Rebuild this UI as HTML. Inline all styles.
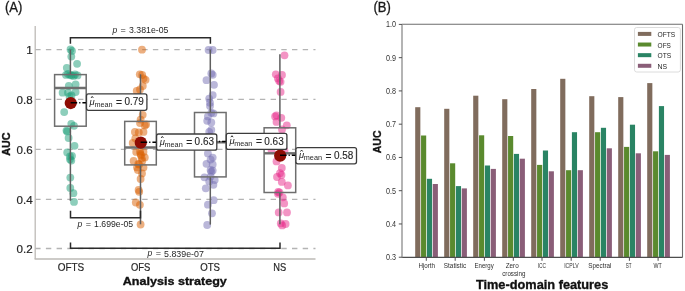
<!DOCTYPE html>
<html><head><meta charset="utf-8"><style>
html,body{margin:0;padding:0;background:#fff;}
body{width:685px;height:291px;overflow:hidden;position:relative;font-family:"Liberation Sans", sans-serif;}
svg{will-change:transform;}
</style></head><body>
<svg width="685" height="291" viewBox="0 0 685 291" style="position:absolute;left:0;top:0">
<rect x="0" y="0" width="685" height="291" fill="#ffffff"/>
<text x="5.0" y="12.2" font-size="14.2" fill="#1a1a1a" stroke="#1a1a1a" stroke-width="0.3" font-family='"Liberation Sans", sans-serif' textLength="17.4" lengthAdjust="spacingAndGlyphs">(A)</text>
<line x1="35.2" y1="49.60" x2="315.5" y2="49.60" stroke="#b4b4b4" stroke-width="1.3" stroke-dasharray="5.4 5.3"/>
<line x1="35.2" y1="99.40" x2="315.5" y2="99.40" stroke="#b4b4b4" stroke-width="1.3" stroke-dasharray="5.4 5.3"/>
<line x1="35.2" y1="149.40" x2="315.5" y2="149.40" stroke="#b4b4b4" stroke-width="1.3" stroke-dasharray="5.4 5.3"/>
<line x1="35.2" y1="199.30" x2="315.5" y2="199.30" stroke="#b4b4b4" stroke-width="1.3" stroke-dasharray="5.4 5.3"/>
<line x1="35.2" y1="248.50" x2="315.5" y2="248.50" stroke="#b4b4b4" stroke-width="1.3" stroke-dasharray="5.4 5.3"/>
<circle cx="70.5" cy="49.40" r="3.9" fill="#1b9e77" fill-opacity="0.5"/>
<circle cx="72" cy="50.90" r="3.9" fill="#1b9e77" fill-opacity="0.5"/>
<circle cx="71.3" cy="56.60" r="3.9" fill="#1b9e77" fill-opacity="0.5"/>
<circle cx="77.1" cy="63.80" r="3.9" fill="#1b9e77" fill-opacity="0.5"/>
<circle cx="66.8" cy="67.80" r="3.9" fill="#1b9e77" fill-opacity="0.5"/>
<circle cx="66" cy="74.90" r="3.9" fill="#1b9e77" fill-opacity="0.5"/>
<circle cx="68" cy="73.90" r="3.9" fill="#1b9e77" fill-opacity="0.5"/>
<circle cx="70" cy="74.90" r="3.9" fill="#1b9e77" fill-opacity="0.5"/>
<circle cx="71.5" cy="75.40" r="3.9" fill="#1b9e77" fill-opacity="0.5"/>
<circle cx="73.5" cy="75.90" r="3.9" fill="#1b9e77" fill-opacity="0.5"/>
<circle cx="75" cy="74.40" r="3.9" fill="#1b9e77" fill-opacity="0.5"/>
<circle cx="77.5" cy="75.40" r="3.9" fill="#1b9e77" fill-opacity="0.5"/>
<circle cx="68.8" cy="85.80" r="3.9" fill="#1b9e77" fill-opacity="0.5"/>
<circle cx="75.6" cy="84.40" r="3.9" fill="#1b9e77" fill-opacity="0.5"/>
<circle cx="62.6" cy="92.70" r="3.9" fill="#1b9e77" fill-opacity="0.5"/>
<circle cx="68" cy="92.70" r="3.9" fill="#1b9e77" fill-opacity="0.5"/>
<circle cx="75.6" cy="92.00" r="3.9" fill="#1b9e77" fill-opacity="0.5"/>
<circle cx="71.5" cy="95.40" r="3.9" fill="#1b9e77" fill-opacity="0.5"/>
<circle cx="69.5" cy="96.40" r="3.9" fill="#1b9e77" fill-opacity="0.5"/>
<circle cx="64.2" cy="112.10" r="3.9" fill="#1b9e77" fill-opacity="0.5"/>
<circle cx="71.3" cy="123.80" r="3.9" fill="#1b9e77" fill-opacity="0.5"/>
<circle cx="74" cy="125.80" r="3.9" fill="#1b9e77" fill-opacity="0.5"/>
<circle cx="66.5" cy="130.60" r="3.9" fill="#1b9e77" fill-opacity="0.5"/>
<circle cx="67.2" cy="131.40" r="3.9" fill="#1b9e77" fill-opacity="0.5"/>
<circle cx="68.6" cy="138.00" r="3.9" fill="#1b9e77" fill-opacity="0.5"/>
<circle cx="74.5" cy="145.80" r="3.9" fill="#1b9e77" fill-opacity="0.5"/>
<circle cx="67.2" cy="152.40" r="3.9" fill="#1b9e77" fill-opacity="0.5"/>
<circle cx="70" cy="156.50" r="3.9" fill="#1b9e77" fill-opacity="0.5"/>
<circle cx="72" cy="155.80" r="3.9" fill="#1b9e77" fill-opacity="0.5"/>
<circle cx="70" cy="159.30" r="3.9" fill="#1b9e77" fill-opacity="0.5"/>
<circle cx="71.3" cy="160.60" r="3.9" fill="#1b9e77" fill-opacity="0.5"/>
<circle cx="70.3" cy="177.60" r="3.9" fill="#1b9e77" fill-opacity="0.5"/>
<circle cx="70.3" cy="187.90" r="3.9" fill="#1b9e77" fill-opacity="0.5"/>
<circle cx="73.4" cy="193.20" r="3.9" fill="#1b9e77" fill-opacity="0.5"/>
<circle cx="74" cy="201.90" r="3.9" fill="#1b9e77" fill-opacity="0.5"/>
<circle cx="142" cy="49.70" r="3.9" fill="#d95f02" fill-opacity="0.5"/>
<circle cx="139.8" cy="74.30" r="3.9" fill="#d95f02" fill-opacity="0.5"/>
<circle cx="142.2" cy="75.00" r="3.9" fill="#d95f02" fill-opacity="0.5"/>
<circle cx="143.5" cy="78.40" r="3.9" fill="#d95f02" fill-opacity="0.5"/>
<circle cx="145.6" cy="79.80" r="3.9" fill="#d95f02" fill-opacity="0.5"/>
<circle cx="142.8" cy="86.00" r="3.9" fill="#d95f02" fill-opacity="0.5"/>
<circle cx="140" cy="89.40" r="3.9" fill="#d95f02" fill-opacity="0.5"/>
<circle cx="136.7" cy="90.80" r="3.9" fill="#d95f02" fill-opacity="0.5"/>
<circle cx="142.7" cy="114.80" r="3.9" fill="#d95f02" fill-opacity="0.5"/>
<circle cx="140.6" cy="119.60" r="3.9" fill="#d95f02" fill-opacity="0.5"/>
<circle cx="140" cy="123.10" r="3.9" fill="#d95f02" fill-opacity="0.5"/>
<circle cx="146.1" cy="124.40" r="3.9" fill="#d95f02" fill-opacity="0.5"/>
<circle cx="144.8" cy="125.40" r="3.9" fill="#d95f02" fill-opacity="0.5"/>
<circle cx="134.9" cy="131.90" r="3.9" fill="#d95f02" fill-opacity="0.5"/>
<circle cx="138.8" cy="132.30" r="3.9" fill="#d95f02" fill-opacity="0.5"/>
<circle cx="143.5" cy="131.90" r="3.9" fill="#d95f02" fill-opacity="0.5"/>
<circle cx="135.3" cy="138.30" r="3.9" fill="#d95f02" fill-opacity="0.5"/>
<circle cx="132.7" cy="143.00" r="3.9" fill="#d95f02" fill-opacity="0.5"/>
<circle cx="136.2" cy="151.90" r="3.9" fill="#d95f02" fill-opacity="0.5"/>
<circle cx="140" cy="151.40" r="3.9" fill="#d95f02" fill-opacity="0.5"/>
<circle cx="143.5" cy="151.90" r="3.9" fill="#d95f02" fill-opacity="0.5"/>
<circle cx="140.5" cy="153.90" r="3.9" fill="#d95f02" fill-opacity="0.5"/>
<circle cx="141" cy="155.40" r="3.9" fill="#d95f02" fill-opacity="0.5"/>
<circle cx="144.8" cy="157.40" r="3.9" fill="#d95f02" fill-opacity="0.5"/>
<circle cx="141.8" cy="158.30" r="3.9" fill="#d95f02" fill-opacity="0.5"/>
<circle cx="133.6" cy="160.90" r="3.9" fill="#d95f02" fill-opacity="0.5"/>
<circle cx="142.2" cy="160.90" r="3.9" fill="#d95f02" fill-opacity="0.5"/>
<circle cx="138.3" cy="163.90" r="3.9" fill="#d95f02" fill-opacity="0.5"/>
<circle cx="137" cy="167.40" r="3.9" fill="#d95f02" fill-opacity="0.5"/>
<circle cx="143.5" cy="167.40" r="3.9" fill="#d95f02" fill-opacity="0.5"/>
<circle cx="139.2" cy="164.50" r="3.9" fill="#d95f02" fill-opacity="0.5"/>
<circle cx="137.9" cy="170.00" r="3.9" fill="#d95f02" fill-opacity="0.5"/>
<circle cx="142" cy="173.40" r="3.9" fill="#d95f02" fill-opacity="0.5"/>
<circle cx="140.6" cy="179.00" r="3.9" fill="#d95f02" fill-opacity="0.5"/>
<circle cx="138.6" cy="190.00" r="3.9" fill="#d95f02" fill-opacity="0.5"/>
<circle cx="139.2" cy="191.80" r="3.9" fill="#d95f02" fill-opacity="0.5"/>
<circle cx="135.8" cy="202.50" r="3.9" fill="#d95f02" fill-opacity="0.5"/>
<circle cx="139.9" cy="204.80" r="3.9" fill="#d95f02" fill-opacity="0.5"/>
<circle cx="140.6" cy="224.50" r="3.9" fill="#d95f02" fill-opacity="0.5"/>
<circle cx="208.6" cy="50.00" r="3.9" fill="#7570b3" fill-opacity="0.5"/>
<circle cx="212.7" cy="50.00" r="3.9" fill="#7570b3" fill-opacity="0.5"/>
<circle cx="211.3" cy="73.40" r="3.9" fill="#7570b3" fill-opacity="0.5"/>
<circle cx="212.7" cy="74.80" r="3.9" fill="#7570b3" fill-opacity="0.5"/>
<circle cx="206.5" cy="80.20" r="3.9" fill="#7570b3" fill-opacity="0.5"/>
<circle cx="214" cy="84.80" r="3.9" fill="#7570b3" fill-opacity="0.5"/>
<circle cx="212.7" cy="95.10" r="3.9" fill="#7570b3" fill-opacity="0.5"/>
<circle cx="209.2" cy="98.60" r="3.9" fill="#7570b3" fill-opacity="0.5"/>
<circle cx="210" cy="102.70" r="3.9" fill="#7570b3" fill-opacity="0.5"/>
<circle cx="210" cy="105.90" r="3.9" fill="#7570b3" fill-opacity="0.5"/>
<circle cx="213.4" cy="113.40" r="3.9" fill="#7570b3" fill-opacity="0.5"/>
<circle cx="211.3" cy="112.80" r="3.9" fill="#7570b3" fill-opacity="0.5"/>
<circle cx="207.9" cy="116.40" r="3.9" fill="#7570b3" fill-opacity="0.5"/>
<circle cx="207.2" cy="120.80" r="3.9" fill="#7570b3" fill-opacity="0.5"/>
<circle cx="211.3" cy="122.40" r="3.9" fill="#7570b3" fill-opacity="0.5"/>
<circle cx="211.3" cy="130.00" r="3.9" fill="#7570b3" fill-opacity="0.5"/>
<circle cx="209.2" cy="132.00" r="3.9" fill="#7570b3" fill-opacity="0.5"/>
<circle cx="207.9" cy="153.40" r="3.9" fill="#7570b3" fill-opacity="0.5"/>
<circle cx="212.7" cy="157.60" r="3.9" fill="#7570b3" fill-opacity="0.5"/>
<circle cx="210.6" cy="159.60" r="3.9" fill="#7570b3" fill-opacity="0.5"/>
<circle cx="206.5" cy="163.80" r="3.9" fill="#7570b3" fill-opacity="0.5"/>
<circle cx="212.7" cy="164.40" r="3.9" fill="#7570b3" fill-opacity="0.5"/>
<circle cx="210.6" cy="170.00" r="3.9" fill="#7570b3" fill-opacity="0.5"/>
<circle cx="212.7" cy="170.60" r="3.9" fill="#7570b3" fill-opacity="0.5"/>
<circle cx="211.3" cy="171.80" r="3.9" fill="#7570b3" fill-opacity="0.5"/>
<circle cx="204.4" cy="177.30" r="3.9" fill="#7570b3" fill-opacity="0.5"/>
<circle cx="210.6" cy="176.60" r="3.9" fill="#7570b3" fill-opacity="0.5"/>
<circle cx="214.7" cy="180.00" r="3.9" fill="#7570b3" fill-opacity="0.5"/>
<circle cx="209.2" cy="181.40" r="3.9" fill="#7570b3" fill-opacity="0.5"/>
<circle cx="213.4" cy="184.80" r="3.9" fill="#7570b3" fill-opacity="0.5"/>
<circle cx="205.8" cy="188.30" r="3.9" fill="#7570b3" fill-opacity="0.5"/>
<circle cx="213.6" cy="200.20" r="3.9" fill="#7570b3" fill-opacity="0.5"/>
<circle cx="207.9" cy="204.70" r="3.9" fill="#7570b3" fill-opacity="0.5"/>
<circle cx="212" cy="213.30" r="3.9" fill="#7570b3" fill-opacity="0.5"/>
<circle cx="207.2" cy="225.00" r="3.9" fill="#7570b3" fill-opacity="0.5"/>
<circle cx="209" cy="136.40" r="3.9" fill="#7570b3" fill-opacity="0.5"/>
<circle cx="212" cy="140.40" r="3.9" fill="#7570b3" fill-opacity="0.5"/>
<circle cx="208" cy="145.40" r="3.9" fill="#7570b3" fill-opacity="0.5"/>
<circle cx="284.5" cy="55.30" r="3.9" fill="#e7298a" fill-opacity="0.5"/>
<circle cx="275.8" cy="74.30" r="3.9" fill="#e7298a" fill-opacity="0.5"/>
<circle cx="282" cy="75.00" r="3.9" fill="#e7298a" fill-opacity="0.5"/>
<circle cx="277.9" cy="78.40" r="3.9" fill="#e7298a" fill-opacity="0.5"/>
<circle cx="280.6" cy="81.80" r="3.9" fill="#e7298a" fill-opacity="0.5"/>
<circle cx="279.2" cy="80.90" r="3.9" fill="#e7298a" fill-opacity="0.5"/>
<circle cx="280.6" cy="91.90" r="3.9" fill="#e7298a" fill-opacity="0.5"/>
<circle cx="276.5" cy="115.30" r="3.9" fill="#e7298a" fill-opacity="0.5"/>
<circle cx="275.1" cy="116.40" r="3.9" fill="#e7298a" fill-opacity="0.5"/>
<circle cx="281.3" cy="117.80" r="3.9" fill="#e7298a" fill-opacity="0.5"/>
<circle cx="276.5" cy="121.90" r="3.9" fill="#e7298a" fill-opacity="0.5"/>
<circle cx="286.8" cy="125.30" r="3.9" fill="#e7298a" fill-opacity="0.5"/>
<circle cx="282" cy="129.40" r="3.9" fill="#e7298a" fill-opacity="0.5"/>
<circle cx="271.5" cy="149.90" r="3.9" fill="#e7298a" fill-opacity="0.5"/>
<circle cx="284.5" cy="150.90" r="3.9" fill="#e7298a" fill-opacity="0.5"/>
<circle cx="276.5" cy="161.40" r="3.9" fill="#e7298a" fill-opacity="0.5"/>
<circle cx="281.8" cy="168.00" r="3.9" fill="#e7298a" fill-opacity="0.5"/>
<circle cx="280" cy="173.20" r="3.9" fill="#e7298a" fill-opacity="0.5"/>
<circle cx="281.5" cy="174.90" r="3.9" fill="#e7298a" fill-opacity="0.5"/>
<circle cx="277" cy="177.00" r="3.9" fill="#e7298a" fill-opacity="0.5"/>
<circle cx="281.8" cy="181.90" r="3.9" fill="#e7298a" fill-opacity="0.5"/>
<circle cx="287.9" cy="185.40" r="3.9" fill="#e7298a" fill-opacity="0.5"/>
<circle cx="278.2" cy="191.90" r="3.9" fill="#e7298a" fill-opacity="0.5"/>
<circle cx="278" cy="193.80" r="3.9" fill="#e7298a" fill-opacity="0.5"/>
<circle cx="279.5" cy="192.40" r="3.9" fill="#e7298a" fill-opacity="0.5"/>
<circle cx="282.8" cy="197.30" r="3.9" fill="#e7298a" fill-opacity="0.5"/>
<circle cx="284.2" cy="203.40" r="3.9" fill="#e7298a" fill-opacity="0.5"/>
<circle cx="278.7" cy="212.40" r="3.9" fill="#e7298a" fill-opacity="0.5"/>
<circle cx="287" cy="212.40" r="3.9" fill="#e7298a" fill-opacity="0.5"/>
<circle cx="280.8" cy="223.40" r="3.9" fill="#e7298a" fill-opacity="0.5"/>
<circle cx="285.6" cy="224.00" r="3.9" fill="#e7298a" fill-opacity="0.5"/>
<circle cx="282.2" cy="225.40" r="3.9" fill="#e7298a" fill-opacity="0.5"/>
<line x1="70.4" y1="49.6" x2="70.4" y2="74.6" stroke="#5f5f5f" stroke-width="1.5"/>
<line x1="70.4" y1="126.2" x2="70.4" y2="200.8" stroke="#5f5f5f" stroke-width="1.5"/>
<rect x="54.60" y="74.6" width="31.6" height="51.60" fill="none" stroke="#6e6e6e" stroke-width="1.5"/>
<line x1="54.60" y1="88.0" x2="86.20" y2="88.0" stroke="#6e6e6e" stroke-width="2.4"/>
<line x1="140.5" y1="74.3" x2="140.5" y2="121.4" stroke="#5f5f5f" stroke-width="1.5"/>
<line x1="140.5" y1="164.9" x2="140.5" y2="224.3" stroke="#5f5f5f" stroke-width="1.5"/>
<rect x="124.70" y="121.4" width="31.6" height="43.50" fill="none" stroke="#6e6e6e" stroke-width="1.5"/>
<line x1="124.70" y1="147.5" x2="156.30" y2="147.5" stroke="#6e6e6e" stroke-width="2.4"/>
<line x1="210.3" y1="49.6" x2="210.3" y2="112.5" stroke="#5f5f5f" stroke-width="1.5"/>
<line x1="210.3" y1="176.9" x2="210.3" y2="224.6" stroke="#5f5f5f" stroke-width="1.5"/>
<rect x="194.50" y="112.5" width="31.6" height="64.40" fill="none" stroke="#6e6e6e" stroke-width="1.5"/>
<line x1="194.50" y1="142.3" x2="226.10" y2="142.3" stroke="#6e6e6e" stroke-width="2.4"/>
<line x1="279.9" y1="54.3" x2="279.9" y2="127.8" stroke="#5f5f5f" stroke-width="1.5"/>
<line x1="279.9" y1="192.5" x2="279.9" y2="224.3" stroke="#5f5f5f" stroke-width="1.5"/>
<rect x="264.10" y="127.8" width="31.6" height="64.70" fill="none" stroke="#6e6e6e" stroke-width="1.5"/>
<line x1="264.10" y1="153.3" x2="295.70" y2="153.3" stroke="#6e6e6e" stroke-width="2.4"/>
<circle cx="70.75" cy="103.05" r="6.1" fill="#8e0d04"/>
<line x1="70.6" y1="102.7" x2="86.5" y2="102.7" stroke="#000" stroke-width="1.5" stroke-dasharray="6.6 2.0 1.2 2.0"/>
<circle cx="140.75" cy="142.65" r="6.1" fill="#8e0d04"/>
<line x1="140.6" y1="142.3" x2="156.6" y2="142.3" stroke="#000" stroke-width="1.5" stroke-dasharray="6.6 2.0 1.2 2.0"/>
<circle cx="210.45000000000002" cy="141.95" r="6.1" fill="#8e0d04"/>
<line x1="210.3" y1="141.6" x2="226.3" y2="141.6" stroke="#000" stroke-width="1.5" stroke-dasharray="6.6 2.0 1.2 2.0"/>
<circle cx="280.15" cy="155.65" r="6.1" fill="#8e0d04"/>
<line x1="280.0" y1="155.3" x2="295.9" y2="155.3" stroke="#000" stroke-width="1.5" stroke-dasharray="6.6 2.0 1.2 2.0"/>
<rect x="86.5" y="93.9" width="60.4" height="16.4" rx="2" fill="#ffffff" stroke="#3c3c3c" stroke-width="1.3"/>
<text x="89.60" y="104.80" font-size="9.4" font-style="italic" fill="#262626" font-family='"Liberation Sans", sans-serif'>&#956;</text>
<path d="M91.10,97.90 L92.20,96.40 L93.30,97.90" fill="none" stroke="#262626" stroke-width="0.95"/>
<text x="94.40" y="106.60" font-size="8.0" fill="#262626" font-family='"Liberation Sans", sans-serif' textLength="18.2" lengthAdjust="spacingAndGlyphs">mean</text>
<text x="116.1" y="106.10" font-size="10.5" fill="#262626" stroke="#262626" stroke-width="0.12" font-family='"Liberation Sans", sans-serif' textLength="6" lengthAdjust="spacingAndGlyphs">=</text>
<text x="124.5" y="105.20" font-size="10" fill="#262626" stroke="#262626" stroke-width="0.12" font-family='"Liberation Sans", sans-serif' textLength="19.4" lengthAdjust="spacingAndGlyphs">0.79</text>
<rect x="156.6" y="134.0" width="60.2" height="16.2" rx="2" fill="#ffffff" stroke="#3c3c3c" stroke-width="1.3"/>
<text x="159.70" y="144.80" font-size="9.4" font-style="italic" fill="#262626" font-family='"Liberation Sans", sans-serif'>&#956;</text>
<path d="M161.20,137.90 L162.30,136.40 L163.40,137.90" fill="none" stroke="#262626" stroke-width="0.95"/>
<text x="164.50" y="146.60" font-size="8.0" fill="#262626" font-family='"Liberation Sans", sans-serif' textLength="18.2" lengthAdjust="spacingAndGlyphs">mean</text>
<text x="186.2" y="146.10" font-size="10.5" fill="#262626" stroke="#262626" stroke-width="0.12" font-family='"Liberation Sans", sans-serif' textLength="6" lengthAdjust="spacingAndGlyphs">=</text>
<text x="194.6" y="145.20" font-size="10" fill="#262626" stroke="#262626" stroke-width="0.12" font-family='"Liberation Sans", sans-serif' textLength="19.4" lengthAdjust="spacingAndGlyphs">0.63</text>
<rect x="226.3" y="133.4" width="60.6" height="16.0" rx="2" fill="#ffffff" stroke="#3c3c3c" stroke-width="1.3"/>
<text x="229.40" y="144.10" font-size="9.4" font-style="italic" fill="#262626" font-family='"Liberation Sans", sans-serif'>&#956;</text>
<path d="M230.90,137.20 L232.00,135.70 L233.10,137.20" fill="none" stroke="#262626" stroke-width="0.95"/>
<text x="234.20" y="145.90" font-size="8.0" fill="#262626" font-family='"Liberation Sans", sans-serif' textLength="18.2" lengthAdjust="spacingAndGlyphs">mean</text>
<text x="255.9" y="145.40" font-size="10.5" fill="#262626" stroke="#262626" stroke-width="0.12" font-family='"Liberation Sans", sans-serif' textLength="6" lengthAdjust="spacingAndGlyphs">=</text>
<text x="264.3" y="144.50" font-size="10" fill="#262626" stroke="#262626" stroke-width="0.12" font-family='"Liberation Sans", sans-serif' textLength="19.4" lengthAdjust="spacingAndGlyphs">0.63</text>
<rect x="295.9" y="147.6" width="60.6" height="16.2" rx="2" fill="#ffffff" stroke="#3c3c3c" stroke-width="1.3"/>
<text x="299.00" y="158.40" font-size="9.4" font-style="italic" fill="#262626" font-family='"Liberation Sans", sans-serif'>&#956;</text>
<path d="M300.50,151.50 L301.60,150.00 L302.70,151.50" fill="none" stroke="#262626" stroke-width="0.95"/>
<text x="303.80" y="160.20" font-size="8.0" fill="#262626" font-family='"Liberation Sans", sans-serif' textLength="18.2" lengthAdjust="spacingAndGlyphs">mean</text>
<text x="325.5" y="159.70" font-size="10.5" fill="#262626" stroke="#262626" stroke-width="0.12" font-family='"Liberation Sans", sans-serif' textLength="6" lengthAdjust="spacingAndGlyphs">=</text>
<text x="333.9" y="158.80" font-size="10" fill="#262626" stroke="#262626" stroke-width="0.12" font-family='"Liberation Sans", sans-serif' textLength="19.4" lengthAdjust="spacingAndGlyphs">0.58</text>
<polyline points="70.4,43.8 70.4,37.7 210.4,37.7 210.4,43.8" fill="none" stroke="#2b2b2b" stroke-width="1.5"/>
<polyline points="70.5,210.8 70.5,217.7 140.5,217.7 140.5,210.8" fill="none" stroke="#2b2b2b" stroke-width="1.5"/>
<polyline points="70.5,242.6 70.5,248.2 280,248.2 280,242.6" fill="none" stroke="#2b2b2b" stroke-width="1.5"/>
<text x="112.40" y="32.50" font-size="8.6" font-style="italic" fill="#262626" font-family='"Liberation Sans", sans-serif'>p</text><text x="120.60" y="32.50" font-size="8.6" fill="#262626" font-family='"Liberation Sans", sans-serif' textLength="5.3" lengthAdjust="spacingAndGlyphs">=</text><text x="129.00" y="32.80" font-size="9.4" fill="#262626" font-family='"Liberation Sans", sans-serif' textLength="39.4" lengthAdjust="spacingAndGlyphs">3.381e-05</text>
<text x="77.50" y="226.70" font-size="8.6" font-style="italic" fill="#262626" font-family='"Liberation Sans", sans-serif'>p</text><text x="85.70" y="226.70" font-size="8.6" fill="#262626" font-family='"Liberation Sans", sans-serif' textLength="5.3" lengthAdjust="spacingAndGlyphs">=</text><text x="94.10" y="227.00" font-size="9.4" fill="#262626" font-family='"Liberation Sans", sans-serif' textLength="39.1" lengthAdjust="spacingAndGlyphs">1.699e-05</text>
<text x="147.50" y="256.40" font-size="8.6" font-style="italic" fill="#262626" font-family='"Liberation Sans", sans-serif'>p</text><text x="155.70" y="256.40" font-size="8.6" fill="#262626" font-family='"Liberation Sans", sans-serif' textLength="5.3" lengthAdjust="spacingAndGlyphs">=</text><text x="164.10" y="256.70" font-size="9.4" fill="#262626" font-family='"Liberation Sans", sans-serif' textLength="39.7" lengthAdjust="spacingAndGlyphs">5.839e-07</text>
<line x1="35.2" y1="26" x2="35.2" y2="259" stroke="#bdbab6" stroke-width="1.3"/>
<line x1="34.6" y1="259" x2="315.5" y2="259" stroke="#bdbab6" stroke-width="1.3"/>
<text x="32.7" y="54.10" font-size="11.6" fill="#262626" stroke="#262626" stroke-width="0.2" text-anchor="end" font-family='"Liberation Sans", sans-serif'>1</text>
<text x="32.7" y="103.90" font-size="11.6" fill="#262626" stroke="#262626" stroke-width="0.2" text-anchor="end" font-family='"Liberation Sans", sans-serif'>0.8</text>
<text x="32.7" y="153.90" font-size="11.6" fill="#262626" stroke="#262626" stroke-width="0.2" text-anchor="end" font-family='"Liberation Sans", sans-serif'>0.6</text>
<text x="32.7" y="203.80" font-size="11.6" fill="#262626" stroke="#262626" stroke-width="0.2" text-anchor="end" font-family='"Liberation Sans", sans-serif'>0.4</text>
<text x="32.7" y="253.00" font-size="11.6" fill="#262626" stroke="#262626" stroke-width="0.2" text-anchor="end" font-family='"Liberation Sans", sans-serif'>0.2</text>
<text x="71" y="271.4" font-size="11.6" fill="#262626" stroke="#262626" stroke-width="0.2" text-anchor="middle" font-family='"Liberation Sans", sans-serif' textLength="26.5" lengthAdjust="spacingAndGlyphs">OFTS</text>
<text x="140.7" y="271.4" font-size="11.6" fill="#262626" stroke="#262626" stroke-width="0.2" text-anchor="middle" font-family='"Liberation Sans", sans-serif' textLength="19.4" lengthAdjust="spacingAndGlyphs">OFS</text>
<text x="210.1" y="271.4" font-size="11.6" fill="#262626" stroke="#262626" stroke-width="0.2" text-anchor="middle" font-family='"Liberation Sans", sans-serif' textLength="19.8" lengthAdjust="spacingAndGlyphs">OTS</text>
<text x="279.7" y="271.4" font-size="11.6" fill="#262626" stroke="#262626" stroke-width="0.2" text-anchor="middle" font-family='"Liberation Sans", sans-serif' textLength="12.9" lengthAdjust="spacingAndGlyphs">NS</text>
<text x="174.8" y="285.0" font-size="11.6" font-weight="bold" fill="#111" stroke="#111" stroke-width="0.35" text-anchor="middle" font-family='"Liberation Sans", sans-serif' textLength="104" lengthAdjust="spacingAndGlyphs">Analysis strategy</text>
<text transform="translate(10.4,144.2) rotate(-90)" x="0" y="0" font-size="11" font-weight="bold" fill="#111" stroke="#111" stroke-width="0.35" text-anchor="middle" font-family='"Liberation Sans", sans-serif' textLength="23.3" lengthAdjust="spacingAndGlyphs">AUC</text>
<text x="373.4" y="12.3" font-size="14.2" fill="#1a1a1a" stroke="#1a1a1a" stroke-width="0.3" font-family='"Liberation Sans", sans-serif' textLength="17.4" lengthAdjust="spacingAndGlyphs">(B)</text>
<rect x="415.20" y="107.2" width="5.15" height="150.20" fill="#806c5d"/>
<rect x="421.05" y="135.5" width="5.15" height="121.90" fill="#5a8a2e"/>
<rect x="426.90" y="178.8" width="5.15" height="78.60" fill="#2a8464"/>
<rect x="432.75" y="184.0" width="5.15" height="73.40" fill="#8a5e78"/>
<rect x="444.20" y="108.8" width="5.15" height="148.60" fill="#806c5d"/>
<rect x="450.05" y="163.3" width="5.15" height="94.10" fill="#5a8a2e"/>
<rect x="455.90" y="186.1" width="5.15" height="71.30" fill="#2a8464"/>
<rect x="461.75" y="188.4" width="5.15" height="69.00" fill="#8a5e78"/>
<rect x="473.20" y="95.7" width="5.15" height="161.70" fill="#806c5d"/>
<rect x="479.05" y="135.3" width="5.15" height="122.10" fill="#5a8a2e"/>
<rect x="484.90" y="165.5" width="5.15" height="91.90" fill="#2a8464"/>
<rect x="490.75" y="168.9" width="5.15" height="88.50" fill="#8a5e78"/>
<rect x="502.20" y="99.2" width="5.15" height="158.20" fill="#806c5d"/>
<rect x="508.05" y="136.0" width="5.15" height="121.40" fill="#5a8a2e"/>
<rect x="513.90" y="153.9" width="5.15" height="103.50" fill="#2a8464"/>
<rect x="519.75" y="158.7" width="5.15" height="98.70" fill="#8a5e78"/>
<rect x="531.20" y="89.0" width="5.15" height="168.40" fill="#806c5d"/>
<rect x="537.05" y="164.9" width="5.15" height="92.50" fill="#5a8a2e"/>
<rect x="542.90" y="150.5" width="5.15" height="106.90" fill="#2a8464"/>
<rect x="548.75" y="171.3" width="5.15" height="86.10" fill="#8a5e78"/>
<rect x="560.20" y="78.8" width="5.15" height="178.60" fill="#806c5d"/>
<rect x="566.05" y="170.2" width="5.15" height="87.20" fill="#5a8a2e"/>
<rect x="571.90" y="132.2" width="5.15" height="125.20" fill="#2a8464"/>
<rect x="577.75" y="170.2" width="5.15" height="87.20" fill="#8a5e78"/>
<rect x="589.20" y="96.2" width="5.15" height="161.20" fill="#806c5d"/>
<rect x="595.05" y="132.2" width="5.15" height="125.20" fill="#5a8a2e"/>
<rect x="600.90" y="127.8" width="5.15" height="129.60" fill="#2a8464"/>
<rect x="606.75" y="148.3" width="5.15" height="109.10" fill="#8a5e78"/>
<rect x="618.20" y="97.1" width="5.15" height="160.30" fill="#806c5d"/>
<rect x="624.05" y="146.9" width="5.15" height="110.50" fill="#5a8a2e"/>
<rect x="629.90" y="124.7" width="5.15" height="132.70" fill="#2a8464"/>
<rect x="635.75" y="153.3" width="5.15" height="104.10" fill="#8a5e78"/>
<rect x="647.20" y="83.1" width="5.15" height="174.30" fill="#806c5d"/>
<rect x="653.05" y="151.3" width="5.15" height="106.10" fill="#5a8a2e"/>
<rect x="658.90" y="106.1" width="5.15" height="151.30" fill="#2a8464"/>
<rect x="664.75" y="154.9" width="5.15" height="102.50" fill="#8a5e78"/>
<line x1="402.0" y1="24.3" x2="682.5" y2="24.3" stroke="#6c6c6c" stroke-width="1.1"/>
<line x1="682.5" y1="24.3" x2="682.5" y2="257.4" stroke="#6c6c6c" stroke-width="1.1"/>
<line x1="402.0" y1="257.4" x2="682.5" y2="257.4" stroke="#4e4e4e" stroke-width="1.1"/>
<line x1="402.0" y1="24.3" x2="402.0" y2="257.4" stroke="#8c8c8c" stroke-width="1.3"/>
<line x1="398.8" y1="24.40" x2="402.0" y2="24.40" stroke="#505050" stroke-width="1"/>
<text x="395.9" y="27.40" font-size="8.3" fill="#333" text-anchor="end" font-family='"Liberation Sans", sans-serif' textLength="10" lengthAdjust="spacingAndGlyphs">1.0</text>
<line x1="398.8" y1="57.66" x2="402.0" y2="57.66" stroke="#505050" stroke-width="1"/>
<text x="395.9" y="60.66" font-size="8.3" fill="#333" text-anchor="end" font-family='"Liberation Sans", sans-serif' textLength="10" lengthAdjust="spacingAndGlyphs">0.9</text>
<line x1="398.8" y1="90.92" x2="402.0" y2="90.92" stroke="#505050" stroke-width="1"/>
<text x="395.9" y="93.92" font-size="8.3" fill="#333" text-anchor="end" font-family='"Liberation Sans", sans-serif' textLength="10" lengthAdjust="spacingAndGlyphs">0.8</text>
<line x1="398.8" y1="124.18" x2="402.0" y2="124.18" stroke="#505050" stroke-width="1"/>
<text x="395.9" y="127.18" font-size="8.3" fill="#333" text-anchor="end" font-family='"Liberation Sans", sans-serif' textLength="10" lengthAdjust="spacingAndGlyphs">0.7</text>
<line x1="398.8" y1="157.44" x2="402.0" y2="157.44" stroke="#505050" stroke-width="1"/>
<text x="395.9" y="160.44" font-size="8.3" fill="#333" text-anchor="end" font-family='"Liberation Sans", sans-serif' textLength="10" lengthAdjust="spacingAndGlyphs">0.6</text>
<line x1="398.8" y1="190.70" x2="402.0" y2="190.70" stroke="#505050" stroke-width="1"/>
<text x="395.9" y="193.70" font-size="8.3" fill="#333" text-anchor="end" font-family='"Liberation Sans", sans-serif' textLength="10" lengthAdjust="spacingAndGlyphs">0.5</text>
<line x1="398.8" y1="223.96" x2="402.0" y2="223.96" stroke="#505050" stroke-width="1"/>
<text x="395.9" y="226.96" font-size="8.3" fill="#333" text-anchor="end" font-family='"Liberation Sans", sans-serif' textLength="10" lengthAdjust="spacingAndGlyphs">0.4</text>
<line x1="398.8" y1="257.22" x2="402.0" y2="257.22" stroke="#505050" stroke-width="1"/>
<text x="395.9" y="260.22" font-size="8.3" fill="#333" text-anchor="end" font-family='"Liberation Sans", sans-serif' textLength="10" lengthAdjust="spacingAndGlyphs">0.3</text>
<line x1="426.30" y1="257.4" x2="426.30" y2="260.79999999999995" stroke="#505050" stroke-width="1"/>
<text x="418.40" y="267.7" font-size="7" fill="#2e2e2e" font-family='"Liberation Sans", sans-serif' textLength="16.6" lengthAdjust="spacingAndGlyphs">Hjorth</text>
<line x1="455.20" y1="257.4" x2="455.20" y2="260.79999999999995" stroke="#505050" stroke-width="1"/>
<text x="443.80" y="267.7" font-size="7" fill="#2e2e2e" font-family='"Liberation Sans", sans-serif' textLength="22.4" lengthAdjust="spacingAndGlyphs">Statistic</text>
<line x1="484.40" y1="257.4" x2="484.40" y2="260.79999999999995" stroke="#505050" stroke-width="1"/>
<text x="474.50" y="267.7" font-size="7" fill="#2e2e2e" font-family='"Liberation Sans", sans-serif' textLength="19.2" lengthAdjust="spacingAndGlyphs">Energy</text>
<line x1="513.30" y1="257.4" x2="513.30" y2="260.79999999999995" stroke="#505050" stroke-width="1"/>
<text x="505.70" y="267.7" font-size="7" fill="#2e2e2e" font-family='"Liberation Sans", sans-serif' textLength="13.1" lengthAdjust="spacingAndGlyphs">Zero</text>
<text x="502.2" y="275.6" font-size="7" fill="#2e2e2e" font-family='"Liberation Sans", sans-serif' textLength="23.2" lengthAdjust="spacingAndGlyphs">crossing</text>
<line x1="542.00" y1="257.4" x2="542.00" y2="260.79999999999995" stroke="#505050" stroke-width="1"/>
<text x="537.70" y="267.7" font-size="7" fill="#2e2e2e" font-family='"Liberation Sans", sans-serif' textLength="8.3" lengthAdjust="spacingAndGlyphs">ICC</text>
<line x1="571.20" y1="257.4" x2="571.20" y2="260.79999999999995" stroke="#505050" stroke-width="1"/>
<text x="564.20" y="267.7" font-size="7" fill="#2e2e2e" font-family='"Liberation Sans", sans-serif' textLength="14.4" lengthAdjust="spacingAndGlyphs">ICPLV</text>
<line x1="600.20" y1="257.4" x2="600.20" y2="260.79999999999995" stroke="#505050" stroke-width="1"/>
<text x="588.30" y="267.7" font-size="7" fill="#2e2e2e" font-family='"Liberation Sans", sans-serif' textLength="23.2" lengthAdjust="spacingAndGlyphs">Spectral</text>
<line x1="629.40" y1="257.4" x2="629.40" y2="260.79999999999995" stroke="#505050" stroke-width="1"/>
<text x="625.70" y="267.7" font-size="7" fill="#2e2e2e" font-family='"Liberation Sans", sans-serif' textLength="5.8" lengthAdjust="spacingAndGlyphs">ST</text>
<line x1="658.10" y1="257.4" x2="658.10" y2="260.79999999999995" stroke="#505050" stroke-width="1"/>
<text x="653.50" y="267.7" font-size="7" fill="#2e2e2e" font-family='"Liberation Sans", sans-serif' textLength="8.3" lengthAdjust="spacingAndGlyphs">WT</text>
<text x="542.1" y="289" font-size="13" font-weight="bold" fill="#111" stroke="#111" stroke-width="0.35" text-anchor="middle" font-family='"Liberation Sans", sans-serif' textLength="132.4" lengthAdjust="spacingAndGlyphs">Time-domain features</text>
<text transform="translate(380.6,141.9) rotate(-90)" x="0" y="0" font-size="11.7" font-weight="bold" fill="#111" stroke="#111" stroke-width="0.35" text-anchor="middle" font-family='"Liberation Sans", sans-serif' textLength="22.8" lengthAdjust="spacingAndGlyphs">AUC</text>
<rect x="634.5" y="27.5" width="45.9" height="44.5" rx="2.2" fill="#ffffff" fill-opacity="0.8" stroke="#d8d8d8" stroke-width="0.9"/>
<rect x="637.9" y="31.90" width="13.4" height="4.0" fill="#806c5d"/>
<text x="657.6" y="37.00" font-size="7.8" fill="#222" font-family='"Liberation Sans", sans-serif' textLength="17.7" lengthAdjust="spacingAndGlyphs">OFTS</text>
<rect x="637.9" y="42.53" width="13.4" height="4.0" fill="#5a8a2e"/>
<text x="657.6" y="47.63" font-size="7.8" fill="#222" font-family='"Liberation Sans", sans-serif' textLength="13.3" lengthAdjust="spacingAndGlyphs">OFS</text>
<rect x="637.9" y="53.16" width="13.4" height="4.0" fill="#2a8464"/>
<text x="657.6" y="58.26" font-size="7.8" fill="#222" font-family='"Liberation Sans", sans-serif' textLength="13.7" lengthAdjust="spacingAndGlyphs">OTS</text>
<rect x="637.9" y="63.79" width="13.4" height="4.0" fill="#8a5e78"/>
<text x="657.6" y="68.89" font-size="7.8" fill="#222" font-family='"Liberation Sans", sans-serif' textLength="9.5" lengthAdjust="spacingAndGlyphs">NS</text>
</svg>
</body></html>
